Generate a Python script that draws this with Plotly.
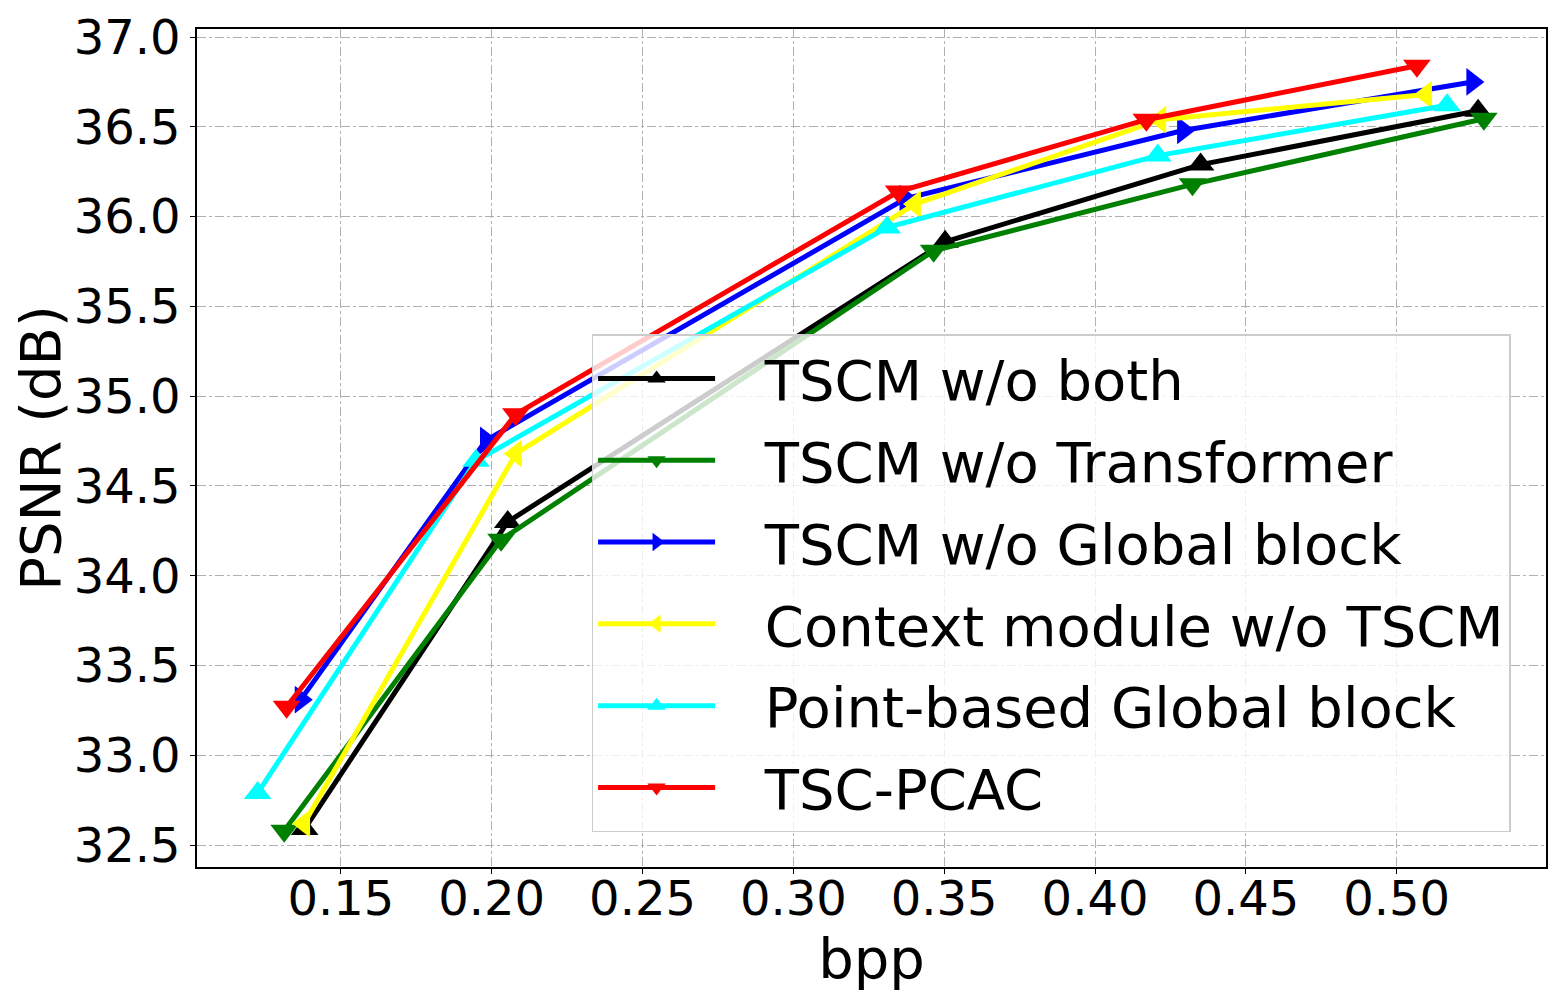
import plotly.graph_objects as go

names = ["TSCM w/o both", "TSCM w/o Transformer", "TSCM w/o Global block",
         "Context module w/o TSCM", "Point-based Global block", "TSC-PCAC"]
colors = ["black", "green", "blue", "yellow", "cyan", "red"]
symbols = ["triangle-up", "triangle-down", "triangle-right",
           "triangle-left", "triangle-up", "triangle-down"]

bpp_both = [0.138, 0.2053, 0.3503, 0.435, 0.527]
psnr_both = [32.59, 34.30, 35.86, 36.29, 36.59]

bpp_trans = [0.1312, 0.2031, 0.3465, 0.4323, 0.5289]
psnr_trans = [32.58, 34.20, 35.81, 36.18, 36.545]

bpp_global = [0.1367, 0.1981, 0.3372, 0.4292, 0.5251]
psnr_global = [33.31, 34.754, 36.10, 36.48, 36.75]

bpp_ctx = [0.1378, 0.208, 0.3403, 0.4216, 0.5097]
psnr_ctx = [32.62, 34.68, 36.07, 36.54, 36.68]

bpp_point = [0.1224, 0.1948, 0.3311, 0.4208, 0.5167]
psnr_point = [32.79, 34.64, 35.94, 36.34, 36.62]

bpp_tsc = [0.132, 0.208, 0.3349, 0.417, 0.5067]
psnr_tsc = [33.27, 34.90, 36.14, 36.54, 36.84]

xs = [bpp_both, bpp_trans, bpp_global, bpp_ctx, bpp_point, bpp_tsc]
ys = [psnr_both, psnr_trans, psnr_global, psnr_ctx, psnr_point, psnr_tsc]

font = "DejaVu Sans"

fig = go.Figure()
for i, (n, c, s, x, y) in enumerate(zip(names, colors, symbols, xs, ys)):
    # small gap between legend line and label, like matplotlib's handletextpad
    fig.add_trace(go.Scatter(x=x, y=y, name="\u2002\u2009\u200a" + n, mode="lines+markers",
                             legendgroup=str(i),
                             line=dict(color=c, width=5),
                             marker=dict(symbol=s, size=24, color=c)))

axis = dict(showline=True, linecolor="black", linewidth=1.5, mirror=True,
            ticks="outside", ticklen=5, tickcolor="black", automargin=False,
            showgrid=True, gridcolor="#b0b0b0", gridwidth=1, griddash="dashdot",
            zeroline=False, tickfont=dict(size=48, color="black"))

# page body adds ~7px offset, margins compensate for it
fig.update_layout(
    width=1560, height=1000,
    paper_bgcolor="white", plot_bgcolor="white",
    font=dict(family=font, color="black"),
    margin=dict(l=189, r=22, t=21, b=141, autoexpand=False),
    xaxis=dict(axis, range=[0.1023, 0.5495], tickvals=[0.15, 0.2, 0.25, 0.3, 0.35, 0.4, 0.45, 0.5],
               tickformat=".2f", ticklabelstandoff=-16,
               title=dict(text="bpp", font=dict(size=56), standoff=0)),
    yaxis=dict(axis, range=[32.378, 37.045], dtick=0.5, tick0=32.5,
               tickformat=".1f", title=dict(text="PSNR (dB)", font=dict(size=56), standoff=9)),
    legend=dict(x=0.2925, y=0.636, xanchor="left", yanchor="top",
                bgcolor="rgba(255,255,255,0.8)", bordercolor="#cccccc", borderwidth=1.5,
                font=dict(size=56, color="black"), itemwidth=117, tracegroupgap=6),
    showlegend=True,
)

fig.write_html("out.html")
